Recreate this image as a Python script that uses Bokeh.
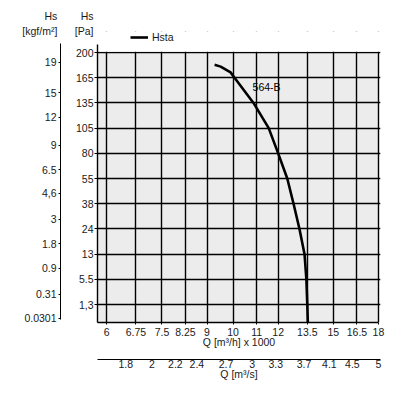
import numpy as np
from bokeh.plotting import figure
from bokeh.models import (LinearAxis, FixedTicker, Range1d, Label, Legend,
                          LegendItem, ColumnDataSource, Title, BoxAnnotation)
from bokeh.embed import file_html
from bokeh.resources import INLINE

# ---------------- data ----------------
q_ticks = [6, 6.75, 7.5, 8.25, 9, 10, 11, 12, 13.5, 15, 16.5, 18]          # Q [m3/h] x 1000
q_labels = ["6", "6.75", "7.5", "8.25", "9", "10", "11", "12", "13.5", "15", "16.5", "18"]
qs_ticks = [1.8, 2, 2.2, 2.4, 2.7, 3, 3.3, 3.7, 4.1, 4.5, 5]                 # Q [m3/s]
qs_labels = ["1.8", "2", "2.2", "2.4", "2.7", "3", "3.3", "3.7", "4.1", "4.5", "5"]
pa_ticks = [1.3, 5.5, 13, 24, 38, 55, 80, 105, 135, 165, 200]                 # Hs [Pa]
pa_labels = ["1,3", "5.5", "13", "24", "38", "55", "80", "105", "135", "165", "200"]
kgf_ticks = [19, 15, 12, 9, 6.5, 4.6, 3, 1.8, 0.9, 0.31, 0.0301]              # Hs [kgf/m2]
kgf_labels = ["19", "15", "12", "9", "6.5", "4,6", "3", "1.8", "0.9", "0.31", "0.0301"]

curve_q = [9.28, 9.51, 9.90, 10.06, 10.86, 11.55, 12.0, 12.45, 12.77, 13.08, 13.35, 13.45, 13.5, 13.53]
curve_pa = [183, 180.4, 172.4, 165, 135, 105, 80, 55, 38, 24, 13, 5.5, 1.3, 0]
series_name = "Hsta"
curve_name = "564-B"
header_top = ["Hs", "Hs"]
header_units = ["[kgf/m²]", "[Pa]"]

KGF_TO_PA = 9.80665
M3S_TO_KM3H = 3.6

# ------------- pressure scale (equal spaced knots) -------------
knots_pa = [0.0] + pa_ticks
knots_pos = [-0.71] + list(range(len(pa_ticks)))


def pa_to_y(v):
    return np.interp(v, knots_pa, knots_pos)


Y_TOP_GRID = knots_pos[-1]          # the 200 Pa line
X0, X1 = 5.78, 18.15                # x range (log), a hair past the 18 line
Y0, Y1 = -0.71, 10.833              # y range, with a strip above the grid for the legend

FONT = "Liberation Sans"
FS = "10.5px"
TXT = "#1a1a1a"
NB = "\u00a0"
GRID_BG = "#ececec"

p = figure(width=393, height=400, x_axis_type="log",
           x_range=Range1d(X0, X1), y_range=Range1d(Y0, Y1),
           output_backend="svg", toolbar_location=None,
           min_border_left=97, min_border_right=13,
           min_border_top=31, min_border_bottom=78,
           background_fill_color="white", border_fill_color="white",
           outline_line_color=None)

# grey chart area (below the 200 Pa line, left of the 18 line)
p.add_layout(BoxAnnotation(left=X0, right=q_ticks[-1], bottom=Y0, top=Y_TOP_GRID,
                           fill_color=GRID_BG, fill_alpha=1, line_color=None,
                           level="image"))

# grid
p.xgrid.ticker = FixedTicker(ticks=q_ticks)
p.ygrid.ticker = FixedTicker(ticks=[float(pa_to_y(v)) for v in pa_ticks])
for g in (p.xgrid[0], p.ygrid[0]):
    g.grid_line_color = "black"
    g.grid_line_width = 1.4

# white strip above the 200 Pa line hides the vertical grid lines there
p.add_layout(BoxAnnotation(left=X0, right=X1, bottom=Y_TOP_GRID + 0.03, top=Y1,
                           fill_color="white", fill_alpha=1, line_color=None,
                           level="glyph"))


def style_axis(ax, tick_out=3, standoff=2):
    ax.major_label_text_font = FONT
    ax.major_label_text_font_size = FS
    ax.major_label_text_color = TXT
    ax.axis_label_text_font = FONT
    ax.axis_label_text_font_size = FS
    ax.axis_label_text_font_style = "normal"
    ax.axis_label_text_color = TXT
    ax.major_tick_in = 0
    ax.major_tick_out = tick_out
    ax.minor_tick_line_color = None
    ax.major_tick_line_color = "black"
    ax.axis_line_color = "black"
    ax.major_label_standoff = standoff


# primary x axis: Q [m3/h] x 1000
xa = p.xaxis[0]
xa.ticker = FixedTicker(ticks=q_ticks)
xa.major_label_overrides = dict(zip(q_ticks, q_labels))
xa.axis_label = "Q [m³/h] x 1000"
style_axis(xa, tick_out=2, standoff=3)
xa.axis_label_standoff = -3
xa.axis_line_width = 1.4
xa.bounds = (X0, q_ticks[-1])

# Pa axis (a transparent axis label keeps the gap to the kgf axis)
ya = p.yaxis[0]
pa_pos = [round(float(pa_to_y(v)), 6) for v in pa_ticks]
ya.ticker = FixedTicker(ticks=pa_pos)
ya.major_label_overrides = dict(zip(pa_pos, pa_labels))
style_axis(ya, tick_out=3, standoff=1)
ya.axis_label = "Hs"
ya.axis_label_text_alpha = 0
ya.axis_label_standoff = -3
ya.axis_line_width = 1.4
ya.bounds = (Y0, Y_TOP_GRID + 0.33)

# kgf/m2 axis
kgf_pos = [round(float(pa_to_y(v * KGF_TO_PA)), 6) for v in kgf_ticks]
ka = LinearAxis(ticker=FixedTicker(ticks=kgf_pos))
ka.major_label_overrides = dict(zip(kgf_pos, kgf_labels))
style_axis(ka, tick_out=2, standoff=2)
ka.bounds = (Y0 + 0.12, Y_TOP_GRID + 0.35)
p.add_layout(ka, "left")

# spacer between the two bottom axes
sp_bot = LinearAxis(ticker=FixedTicker(ticks=[]), axis_line_color=None,
                    major_tick_line_color=None, minor_tick_line_color=None,
                    major_tick_out=0, major_tick_in=0, major_label_standoff=0,
                    axis_label="Q", axis_label_text_alpha=0,
                    axis_label_text_font_size="6px", axis_label_standoff=0)
p.add_layout(sp_bot, "below")

# Q [m3/s] axis
qs_pos = [round(v * M3S_TO_KM3H, 6) for v in qs_ticks]
qa = LinearAxis(ticker=FixedTicker(ticks=qs_pos))
qa.major_label_overrides = dict(zip(qs_pos, qs_labels))
qa.axis_label = "Q [m³/s]"
style_axis(qa, tick_out=0, standoff=0)
qa.axis_label_standoff = -3
p.add_layout(qa, "below")

# curve
src = ColumnDataSource(data=dict(q=curve_q, y=[float(pa_to_y(v)) for v in curve_pa]))
r = p.line(x="q", y="y", source=src, line_color="black", line_width=2.6)

# curve name
p.add_layout(Label(x=10.82, y=float(pa_to_y(154)), text=curve_name,
                   text_font=FONT, text_font_size=FS, text_color="black",
                   text_baseline="middle", text_align="left"))

# legend, in the white strip at the top of the frame
leg = Legend(items=[LegendItem(label=series_name, renderers=[r])],
             location=(33, 279), orientation="horizontal",
             border_line_color=None, background_fill_alpha=0,
             padding=0, margin=0, spacing=0,
             glyph_width=18, glyph_height=12, label_height=12,
             label_standoff=4, label_text_font=FONT,
             label_text_font_size=FS, label_text_color=TXT)
p.add_layout(leg)

# axis headers (two rows) in the top border, right aligned to the Pa labels
units_row = header_units[0] + NB * 6 + header_units[1]
hs_row = header_top[0] + NB * 8 + header_top[1]
for txt, so in [(units_row, -12), (hs_row, 14)]:
    p.add_layout(Title(text=txt, align="right", offset=287, vertical_align="middle",
                       standoff=so, text_font=FONT, text_font_size=FS,
                       text_font_style="normal", text_color=TXT), "above")

open("out.html", "w").write(file_html(p, INLINE))
